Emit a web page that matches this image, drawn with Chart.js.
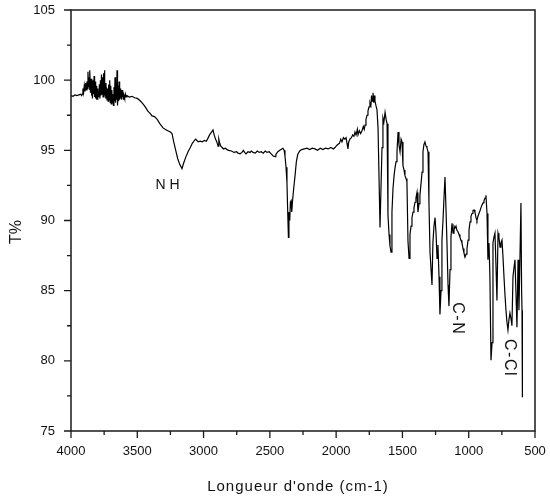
<!DOCTYPE html>
<html><head><meta charset="utf-8">
<script src="https://cdn.jsdelivr.net/npm/chart.js@4"></script>
<style>html,body{margin:0;padding:0;background:#fff;overflow:hidden}</style>
</head><body>
<canvas id="c" width="550" height="502"></canvas>
<script>
// Wavenumber (cm-1), descending
const wavenumbers = [
4000,3985,3970,3955,3940,3928,3920,
3915,3910,3905,3900,3895,3890,3885,3880,3876,3872,3868,3864,3860,3857,3853,3849,3845,3842,3838,3834,3830,3826,3822,3818,3814,3810,3806,3802,3798,3794,3790,3786,3782,3778,3774,3770,3766,3762,3758,3754,3751,3748,3744,3740,3736,3732,3728,3724,3720,3716,3712,3708,3704,3700,3696,3692,3688,3684,3680,3676,3672,3668,3664,3660,3656,3653,3649,3645,3641,3637,3633,3629,3625,3621,3617,3615,3611,3607,3603,3600,3595,3590,3585,3578,
3560,3540,3520,3500,3480,3460,3440,3420,3400,3389,3370,3350,3330,3306,3290,3270,3250,3238,3225,3210,3195,3180,3163,3150,3135,3117,3100,3085,3070,3060,3050,3040,3025,3010,2995,2980,2970,2955,2940,2929,2920,2910,2900,2891,2885,2878,2870,2860,2850,2835,2823,2810,2790,2770,2750,2740,2725,2710,2700,2690,2680,2665,2650,2640,2627,2610,2595,2580,2565,2550,2535,2521,2505,2490,2475,2461,
2455,2440,2425,2410,2401,2392,2386,2378,2371,2365,2360,2356,2350,2345,2340,2335,2328,2320,2310,2300,2290,2275,2260,2240,2220,2200,2180,2160,2140,2120,2100,2080,2060,2040,2020,2009,
2000,1990,1975,1965,1956,1945,1934,1925,1918,1911,1905,1896,1885,1875,1866,1858,1850,1840,1835,1825,1815,1805,1795,1788,1782,1775,1767,1760,1752,1745,1738,1733,1728,1722,1716,1711,1707,1700,1692,
1684,1669,1660,1654,1647,1640,1631,1623,1616,1609,1601,1594,1586,1579,1571,1563,1556,1548,1541,1533,1526,1518,1510,1503,1496,1488,1481,1473,1466,1458,1450,1443,1435,1428,1420,1413,1405,1398,1390,1383,1375,1368,1360,1352,1345,1338,1330,1322,1315,1307,1300,1292,1284,1277,1270,1262,1254,1246,1239,1232,1224,1217,1209,1202,1194,1187,1179,1172,1164,1156,1149,1141,1134,1126,1118,1111,1104,1096,1089,1081,1073,1066,1058,1051,1043,1036,1028,1020,1013,1005,998,990,983,975,968,960,953,945,938,930,923,915,908,900,892,885,877,870,862,855,847,840,832,824,817,810,802,795,787,779,772,764,757,749,742,734,727,719,712,704,697,689,681,674,666,659,651,644,636,628,621,614,606,601,598,595
];
// Transmittance (%)
const transmittance = [
98.9,98.85,98.95,98.9,98.95,99.0,98.9,
99.0,99.4,99.1,99.6,99.2,99.8,99.3,99.9,99.4,100.6,99.5,100.2,99.3,100.7,99.1,100.1,98.9,99.8,98.7,100.0,99.0,100.3,98.8,99.9,98.7,99.6,98.6,99.4,98.6,99.2,98.8,99.7,98.7,100.0,98.9,100.4,99.0,100.2,98.8,100.5,99.2,100.7,99.0,99.8,98.7,99.5,98.6,99.4,98.5,99.7,98.6,100.0,98.4,99.6,98.3,99.3,98.4,99.0,98.2,99.5,98.5,100.2,98.4,99.8,98.6,100.7,98.2,99.6,98.5,99.9,98.6,99.4,98.7,99.2,98.6,99.3,98.8,99.0,98.6,98.9,98.7,99.0,98.8,98.9,
98.8,98.85,98.75,98.7,98.55,98.35,98.1,97.8,97.6,97.45,97.4,97.2,96.9,96.6,96.5,96.4,96.3,96.2,95.6,95.0,94.4,94.0,93.7,94.1,94.5,94.9,95.2,95.5,95.7,95.8,95.7,95.6,95.65,95.6,95.7,95.65,95.8,96.1,96.3,96.45,96.1,95.8,95.6,95.3,95.8,95.5,95.3,95.2,95.1,95.15,95.05,95.0,94.95,94.85,94.9,94.8,94.75,94.85,95.0,94.85,94.75,94.9,94.85,94.95,94.85,94.8,94.95,94.85,94.9,94.8,94.95,94.85,94.9,94.75,94.6,94.55,
94.7,94.9,95.0,95.1,95.15,95.0,94.6,93.8,92.7,90.5,88.8,90.6,90.0,91.3,91.4,90.6,91.5,92.3,93.2,94.2,94.7,94.95,95.05,95.1,95.15,95.05,95.15,95.1,95.0,95.15,95.05,95.15,95.1,95.2,95.1,95.2,
95.3,95.4,95.5,95.8,95.6,95.9,95.8,95.9,95.5,95.1,95.6,95.8,95.9,96.1,96.0,96.3,96.1,96.5,96.1,96.4,96.2,96.4,96.7,96.5,96.8,97.2,97.5,97.8,98.1,98.4,98.2,98.9,98.5,99.1,98.4,98.9,98.5,98.2,97.9,
96.6,89.5,93.0,95.2,97.3,97.0,97.7,97.2,96.9,90.4,89.0,88.2,87.75,90.6,92.3,93.2,93.75,94.2,94.9,96.3,95.4,94.9,95.8,95.6,93.9,93.6,93.2,93.0,92.75,88.5,87.3,89.0,89.6,90.2,90.6,90.9,91.3,91.6,92.0,90.6,91.2,91.8,92.6,93.45,94.9,95.4,95.6,95.3,95.2,94.9,91.3,87.75,86.5,85.4,88.45,89.6,90.2,89.0,87.3,88.25,86.0,83.3,85.0,88.6,90.0,91.5,93.1,91.0,88.4,85.4,83.9,86.5,88.8,89.8,89.1,89.6,89.45,89.6,89.3,89.2,89.0,88.8,88.6,88.4,88.0,87.7,87.4,87.6,88.0,88.6,89.3,89.9,90.3,90.5,90.7,90.75,90.6,90.2,90.0,90.3,90.5,90.7,90.9,91.1,91.25,91.4,91.6,91.8,90.5,87.2,88.4,86.0,80.05,81.3,88.4,88.8,89.1,87.0,84.3,89.1,88.8,88.1,88.4,88.6,87.5,86.0,84.8,83.6,82.8,82.2,82.9,83.4,83.0,82.5,86.0,86.6,87.2,85.0,82.4,87.2,83.6,87.0,91.25,85.0,83.6,77.4
];
const xTickValues = [4000,3500,3000,2500,2000,1500,1000,500];
const yTickValues = [75,80,85,90,95,100,105];
const xMinorTicks = [3750,3250,2750,2250,1750,1250,750];
const yMinorTicks = [77.5,82.5,87.5,92.5,97.5,102.5];
const annotationTexts = ['N H','C-N','C-Cl'];
const annotationWavenumbers = [3272,1088,692];
const annotationValues = [92.55,83.0,80.2];
const annotationRotations = [0,Math.PI/2,Math.PI/2];
const xTitle = "Longueur d'onde (cm-1)";
const yTitle = 'T%';

const FONT = '"Liberation Sans", Arial, sans-serif';
const points = wavenumbers.map((w,i)=>({x:w,y:transmittance[i]}));

function spacedText(ctx, text, x, y, spacing){
  ctx.letterSpacing = spacing + 'px';
  ctx.fillText(text, x, y);
  ctx.letterSpacing = '0px';
}

const decor = {
  id:'decor',
  afterDraw(chart){
    const ctx = chart.ctx, a = chart.chartArea;
    const xs = chart.scales.x, ys = chart.scales.y;
    ctx.save();
    ctx.strokeStyle = '#1a1a1a';
    ctx.lineWidth = 1.5;
    ctx.strokeRect(a.left, a.top, a.right - a.left, a.bottom - a.top);
    ctx.lineWidth = 1.3;
    ctx.beginPath();
    xTickValues.forEach(v=>{const p=xs.getPixelForValue(v); ctx.moveTo(p,a.bottom); ctx.lineTo(p,a.bottom+7);});
    xMinorTicks.forEach(v=>{const p=xs.getPixelForValue(v); ctx.moveTo(p,a.bottom); ctx.lineTo(p,a.bottom+4);});
    yTickValues.forEach(v=>{const p=ys.getPixelForValue(v); ctx.moveTo(a.left,p); ctx.lineTo(a.left-7,p);});
    yMinorTicks.forEach(v=>{const p=ys.getPixelForValue(v); ctx.moveTo(a.left,p); ctx.lineTo(a.left-4,p);});
    ctx.stroke();

    ctx.fillStyle = '#111';
    ctx.textAlign = 'center';
    ctx.textBaseline = 'middle';
    ctx.font = '15px ' + FONT;
    spacedText(ctx, xTitle, 298, 487, 1);
    ctx.save();
    ctx.translate(16.5, 232);
    ctx.rotate(-Math.PI/2);
    ctx.font = '16px ' + FONT;
    ctx.fillText(yTitle, 0, 0);
    ctx.restore();
    annotationTexts.forEach((t,i)=>{
      const px = xs.getPixelForValue(annotationWavenumbers[i]);
      const py = ys.getPixelForValue(annotationValues[i]);
      ctx.save();
      ctx.translate(px, py);
      ctx.rotate(annotationRotations[i]);
      if (i === 0) { ctx.font = '14px ' + FONT; ctx.fillText(t,0,0); }
      else { ctx.font = '16px ' + FONT; spacedText(ctx, t, 0, 0, 1.5); }
      ctx.restore();
    });
    ctx.restore();
  }
};

new Chart(document.getElementById('c'), {
  type:'line',
  data:{datasets:[{data:points, borderColor:'#000', borderWidth:1.2, pointRadius:0, tension:0, fill:false}]},
  options:{
    responsive:false, animation:false, events:[],
    plugins:{legend:{display:false}, tooltip:{enabled:false}},
    layout:{autoPadding:false, padding:{left:0,right:15,top:10,bottom:0}},
    scales:{
      x:{type:'linear', reverse:true, min:500, max:4000,
        afterFit(s){s.height = 71; s.paddingLeft = 0; s.paddingRight = 0;},
        afterBuildTicks(s){s.ticks = xTickValues.map(v=>({value:v}));},
        grid:{display:false, drawTicks:false}, border:{display:false},
        ticks:{padding:13, color:'#111', font:{family:FONT, size:13}, maxRotation:0, autoSkip:false, callback:v=>String(v)}
      },
      y:{type:'linear', min:75, max:105,
        afterFit(s){s.width = 71; s.paddingTop = 0; s.paddingBottom = 0;},
        afterBuildTicks(s){s.ticks = yTickValues.map(v=>({value:v}));},
        grid:{display:false, drawTicks:false}, border:{display:false},
        ticks:{padding:16, color:'#111', font:{family:FONT, size:13}, autoSkip:false, callback:v=>String(v)}
      }
    }
  },
  plugins:[decor]
});
</script>
</body></html>
